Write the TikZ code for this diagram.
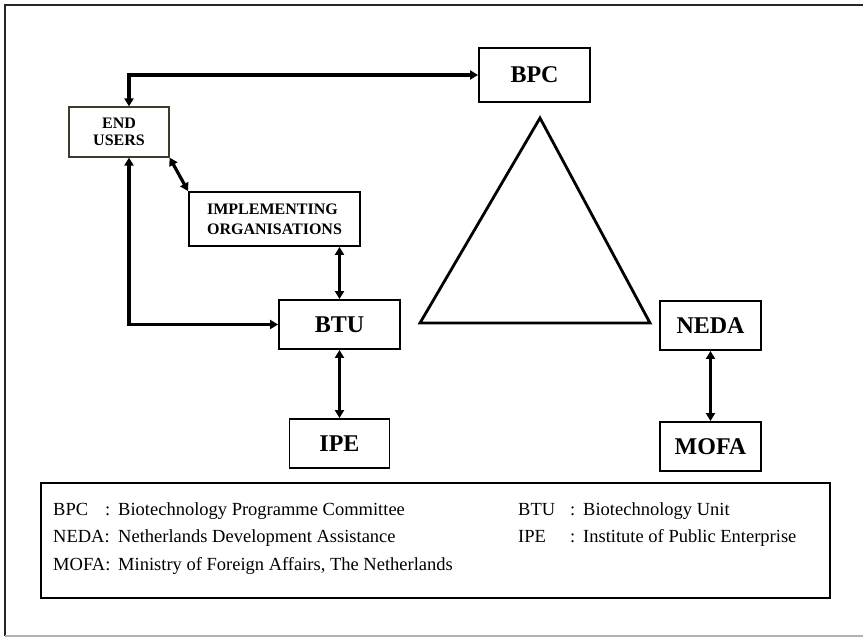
\documentclass[tikz,border=0pt]{standalone}
\usepackage{fontspec}
\setmainfont{Liberation Serif}
\usetikzlibrary{arrows.meta}
\definecolor{euframe}{RGB}{60,60,40}
\tikzset{
  unit/.style={draw,line width=1.9pt,inner sep=0pt,font=\bfseries\fontsize{24}{26}\selectfont},
  dlink/.style={line width=3.2pt,{Triangle[length=8pt,width=9pt]}-{Triangle[length=8pt,width=9pt]}},
  legtext/.style={anchor=base west,inner sep=0pt,font=\fontsize{18.5}{20}\selectfont}
}
\begin{document}
\begin{tikzpicture}[x=1pt,y=-1pt]
  \useasboundingbox (0,0) rectangle (863,637);
  \draw[line width=2pt,black!85] (4.5,636) -- (4.5,5) -- (863,5);
  \draw[line width=1.2pt,black!30] (4.5,636) -- (863,636);
  % units
  \node[draw=euframe,line width=1.2pt,inner sep=0pt,minimum width=100pt,minimum height=50pt,align=center,
        font=\bfseries\fontsize{16}{16.7}\selectfont] (eu) at (119,132) {END\\USERS};
  \node[unit,minimum width=171pt,minimum height=54pt,align=left,font=\bfseries\fontsize{16}{20}\selectfont] (io) at (274.5,219) {IMPLEMENTING\\ORGANISATIONS};
  \node[unit,minimum width=121pt,minimum height=49pt] (btu) at (339.5,324.5) {BTU};
  \node[unit,minimum width=111pt,minimum height=54pt] (bpc) at (534.5,75) {BPC};
  \node[unit,minimum width=100pt,minimum height=49pt] (ipe) at (339.5,443.5) {IPE};
  \node[unit,minimum width=101pt,minimum height=49pt] (neda) at (710.5,325.5) {NEDA};
  \node[unit,minimum width=101pt,minimum height=49pt] (mofa) at (710.5,446.5) {MOFA};
  \draw[line width=2.8pt,line join=miter] (540,118) -- (650,323) -- (420,323) -- cycle;
  % links
  \coordinate (eutop) at ([xshift=10pt]eu.north);
  \coordinate (eubot) at ([xshift=10pt]eu.south);
  \draw[dlink] (eutop) |- (bpc.west);
  \draw[dlink] (eubot) |- (btu.west);
  \draw[dlink] (eu.south east) -- (io.north west);
  \draw[dlink] (btu.north |- io.south) -- (btu.north);
  \draw[dlink] (btu) -- (ipe);
  \draw[dlink] (neda) -- (mofa);
  % legend
  \draw[line width=2.4pt] (41,483) rectangle (830,598);
  \foreach \ab/\col/\txt/\x/\y [count=\i] in {
      BPC/:/Biotechnology Programme Committee/53/515,
      NEDA://Netherlands Development Assistance/53/542,
      MOFA://{Ministry of Foreign Affairs, The Netherlands}/53/570,
      BTU/:/Biotechnology Unit/518/515,
      IPE/:/Institute of Public Enterprise/518/542} {
    \node[legtext] (ab\i) at (\x,\y) {\ab};
    \node[legtext] (col\i) at (\x+52,\y) {\col};
    \node[legtext] (tx\i) at (\x+65,\y) {\txt};
  }
\end{tikzpicture}
\end{document}
